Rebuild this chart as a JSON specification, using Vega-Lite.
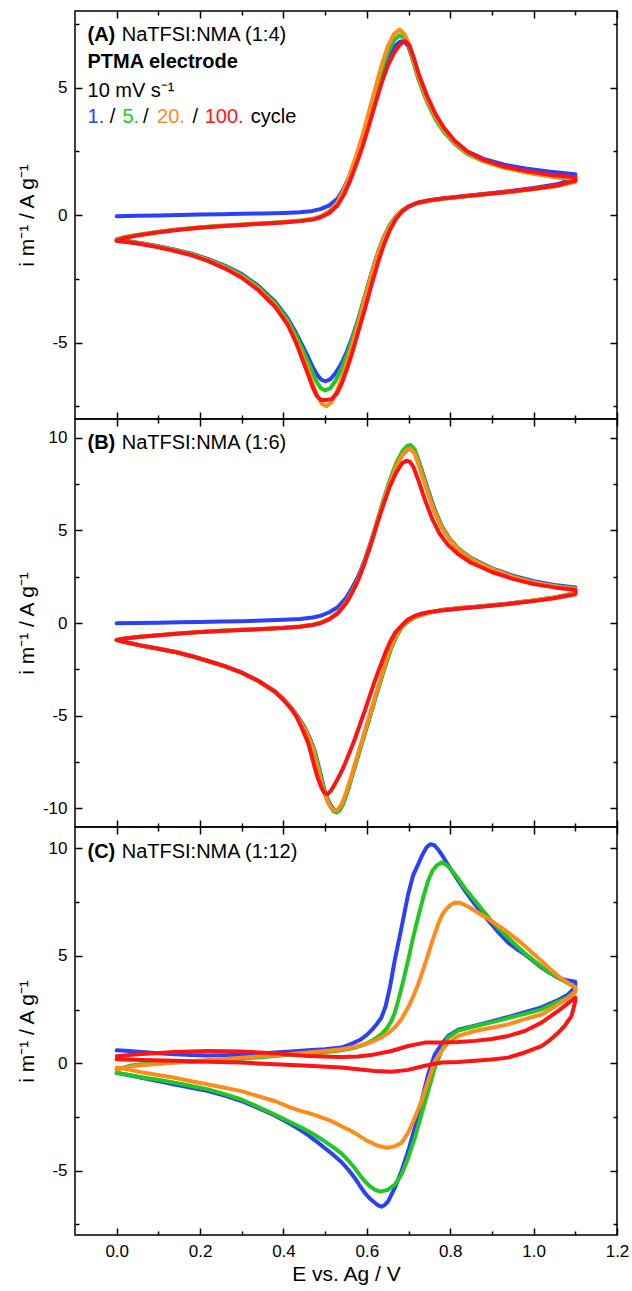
{
"$schema": "https://vega.github.io/schema/vega-lite/v6.json",
"padding": {"left": 15, "top": 9, "right": 0, "bottom": 0},
"background": "white",
"spacing": 0,
"bounds": "flush",
"config": {
 "font": "Liberation Sans",
 "view": {"stroke": "black", "strokeWidth": 1.5},
 "axis": {"domain": false, "grid": false, "tickColor": "black", "tickWidth": 1.5, "labelColor": "black", "titleColor": "black", "labelFontSize": 17, "titleFontSize": 21, "titleFontWeight": "normal", "labelFont": "Liberation Sans", "titleFont": "Liberation Sans"},
 "text": {"font": "Liberation Sans", "fontSize": 20}
},
"datasets": {
 "A": [
{"c":1,"x":0,"y":-0.05},{"c":1,"x":0.05,"y":-0.03},{"c":1,"x":0.1,"y":-0.02},{"c":1,"x":0.15,"y":0},{"c":1,"x":0.2,"y":0.02},{"c":1,"x":0.25,"y":0.03},{"c":1,"x":0.3,"y":0.05},{"c":1,"x":0.35,"y":0.06},{"c":1,"x":0.4,"y":0.08},{"c":1,"x":0.44,"y":0.11},{"c":1,"x":0.47,"y":0.16},{"c":1,"x":0.49,"y":0.24},{"c":1,"x":0.51,"y":0.38},{"c":1,"x":0.53,"y":0.65},{"c":1,"x":0.545,"y":1.05},{"c":1,"x":0.56,"y":1.6},{"c":1,"x":0.575,"y":2.3},{"c":1,"x":0.59,"y":3.05},{"c":1,"x":0.605,"y":3.9},{"c":1,"x":0.62,"y":4.7},{"c":1,"x":0.635,"y":5.55},{"c":1,"x":0.65,"y":6.2},{"c":1,"x":0.665,"y":6.6},{"c":1,"x":0.68,"y":6.8},{"c":1,"x":0.69,"y":6.8},{"c":1,"x":0.7,"y":6.6},{"c":1,"x":0.71,"y":6.1},{"c":1,"x":0.725,"y":5.3},{"c":1,"x":0.745,"y":4.5},{"c":1,"x":0.765,"y":3.85},{"c":1,"x":0.785,"y":3.35},{"c":1,"x":0.81,"y":2.9},{"c":1,"x":0.84,"y":2.5},{"c":1,"x":0.88,"y":2.2},{"c":1,"x":0.93,"y":1.97},{"c":1,"x":0.98,"y":1.82},{"c":1,"x":1.04,"y":1.7},{"c":1,"x":1.1,"y":1.6},
{"c":1,"x":1.1,"y":1.45},{"c":1,"x":1.06,"y":1.22},{"c":1,"x":1,"y":1.06},{"c":1,"x":0.94,"y":0.93},{"c":1,"x":0.88,"y":0.82},{"c":1,"x":0.82,"y":0.72},{"c":1,"x":0.78,"y":0.64},{"c":1,"x":0.75,"y":0.57},{"c":1,"x":0.72,"y":0.47},{"c":1,"x":0.7,"y":0.34},{"c":1,"x":0.685,"y":0.18},{"c":1,"x":0.67,"y":-0.05},{"c":1,"x":0.655,"y":-0.4},{"c":1,"x":0.64,"y":-0.9},{"c":1,"x":0.627,"y":-1.45},{"c":1,"x":0.611,"y":-2.3},{"c":1,"x":0.595,"y":-3.2},{"c":1,"x":0.579,"y":-4.1},{"c":1,"x":0.565,"y":-4.8},{"c":1,"x":0.552,"y":-5.35},{"c":1,"x":0.54,"y":-5.8},{"c":1,"x":0.525,"y":-6.2},{"c":1,"x":0.512,"y":-6.45},{"c":1,"x":0.5,"y":-6.52},{"c":1,"x":0.49,"y":-6.45},{"c":1,"x":0.48,"y":-6.25},{"c":1,"x":0.47,"y":-5.95},{"c":1,"x":0.46,"y":-5.6},{"c":1,"x":0.445,"y":-5.1},{"c":1,"x":0.43,"y":-4.62},{"c":1,"x":0.41,"y":-4.05},{"c":1,"x":0.38,"y":-3.4},{"c":1,"x":0.34,"y":-2.78},{"c":1,"x":0.3,"y":-2.32},{"c":1,"x":0.26,"y":-1.99},{"c":1,"x":0.22,"y":-1.73},{"c":1,"x":0.18,"y":-1.52},{"c":1,"x":0.14,"y":-1.36},{"c":1,"x":0.1,"y":-1.22},{"c":1,"x":0.06,"y":-1.11},{"c":1,"x":0.03,"y":-1.04},{"c":1,"x":0,"y":-0.98},
{"c":5,"x":0,"y":-0.95},{"c":5,"x":0.02,"y":-0.86},{"c":5,"x":0.05,"y":-0.77},{"c":5,"x":0.1,"y":-0.66},{"c":5,"x":0.15,"y":-0.56},{"c":5,"x":0.2,"y":-0.48},{"c":5,"x":0.25,"y":-0.42},{"c":5,"x":0.3,"y":-0.37},{"c":5,"x":0.35,"y":-0.32},{"c":5,"x":0.4,"y":-0.27},{"c":5,"x":0.44,"y":-0.22},{"c":5,"x":0.47,"y":-0.15},{"c":5,"x":0.49,"y":-0.05},{"c":5,"x":0.51,"y":0.15},{"c":5,"x":0.53,"y":0.5},{"c":5,"x":0.545,"y":0.95},{"c":5,"x":0.56,"y":1.55},{"c":5,"x":0.575,"y":2.25},{"c":5,"x":0.59,"y":3.0},{"c":5,"x":0.605,"y":3.9},{"c":5,"x":0.62,"y":4.75},{"c":5,"x":0.635,"y":5.65},{"c":5,"x":0.65,"y":6.35},{"c":5,"x":0.665,"y":6.85},{"c":5,"x":0.678,"y":7.05},{"c":5,"x":0.69,"y":6.95},{"c":5,"x":0.7,"y":6.65},{"c":5,"x":0.71,"y":6.1},{"c":5,"x":0.725,"y":5.25},{"c":5,"x":0.745,"y":4.4},{"c":5,"x":0.765,"y":3.75},{"c":5,"x":0.785,"y":3.25},{"c":5,"x":0.81,"y":2.8},{"c":5,"x":0.84,"y":2.4},{"c":5,"x":0.88,"y":2.1},{"c":5,"x":0.93,"y":1.85},{"c":5,"x":0.98,"y":1.68},{"c":5,"x":1.04,"y":1.52},{"c":5,"x":1.1,"y":1.38},
{"c":5,"x":1.1,"y":1.3},{"c":5,"x":1.06,"y":1.15},{"c":5,"x":1,"y":1.02},{"c":5,"x":0.94,"y":0.9},{"c":5,"x":0.88,"y":0.8},{"c":5,"x":0.82,"y":0.71},{"c":5,"x":0.78,"y":0.64},{"c":5,"x":0.75,"y":0.57},{"c":5,"x":0.72,"y":0.47},{"c":5,"x":0.7,"y":0.34},{"c":5,"x":0.685,"y":0.18},{"c":5,"x":0.67,"y":-0.05},{"c":5,"x":0.655,"y":-0.4},{"c":5,"x":0.64,"y":-0.9},{"c":5,"x":0.627,"y":-1.45},{"c":5,"x":0.611,"y":-2.3},{"c":5,"x":0.595,"y":-3.2},{"c":5,"x":0.579,"y":-4.15},{"c":5,"x":0.565,"y":-4.9},{"c":5,"x":0.552,"y":-5.5},{"c":5,"x":0.54,"y":-6.0},{"c":5,"x":0.525,"y":-6.5},{"c":5,"x":0.512,"y":-6.8},{"c":5,"x":0.5,"y":-6.88},{"c":5,"x":0.49,"y":-6.8},{"c":5,"x":0.48,"y":-6.55},{"c":5,"x":0.47,"y":-6.2},{"c":5,"x":0.46,"y":-5.8},{"c":5,"x":0.445,"y":-5.25},{"c":5,"x":0.43,"y":-4.72},{"c":5,"x":0.41,"y":-4.12},{"c":5,"x":0.38,"y":-3.46},{"c":5,"x":0.34,"y":-2.83},{"c":5,"x":0.3,"y":-2.36},{"c":5,"x":0.26,"y":-2.02},{"c":5,"x":0.22,"y":-1.75},{"c":5,"x":0.18,"y":-1.54},{"c":5,"x":0.14,"y":-1.37},{"c":5,"x":0.1,"y":-1.23},{"c":5,"x":0.06,"y":-1.12},{"c":5,"x":0.03,"y":-1.05},{"c":5,"x":0,"y":-1.0},
{"c":20,"x":0,"y":-0.97},{"c":20,"x":0.02,"y":-0.88},{"c":20,"x":0.05,"y":-0.79},{"c":20,"x":0.1,"y":-0.67},{"c":20,"x":0.15,"y":-0.57},{"c":20,"x":0.2,"y":-0.49},{"c":20,"x":0.25,"y":-0.43},{"c":20,"x":0.3,"y":-0.38},{"c":20,"x":0.35,"y":-0.33},{"c":20,"x":0.4,"y":-0.28},{"c":20,"x":0.44,"y":-0.23},{"c":20,"x":0.47,"y":-0.16},{"c":20,"x":0.49,"y":-0.06},{"c":20,"x":0.51,"y":0.14},{"c":20,"x":0.53,"y":0.5},{"c":20,"x":0.545,"y":0.98},{"c":20,"x":0.56,"y":1.6},{"c":20,"x":0.575,"y":2.35},{"c":20,"x":0.59,"y":3.15},{"c":20,"x":0.605,"y":4.05},{"c":20,"x":0.62,"y":4.95},{"c":20,"x":0.635,"y":5.85},{"c":20,"x":0.65,"y":6.6},{"c":20,"x":0.665,"y":7.1},{"c":20,"x":0.678,"y":7.27},{"c":20,"x":0.69,"y":7.1},{"c":20,"x":0.7,"y":6.75},{"c":20,"x":0.71,"y":6.2},{"c":20,"x":0.725,"y":5.35},{"c":20,"x":0.745,"y":4.5},{"c":20,"x":0.765,"y":3.85},{"c":20,"x":0.785,"y":3.33},{"c":20,"x":0.81,"y":2.85},{"c":20,"x":0.84,"y":2.45},{"c":20,"x":0.88,"y":2.12},{"c":20,"x":0.93,"y":1.86},{"c":20,"x":0.98,"y":1.68},{"c":20,"x":1.04,"y":1.52},{"c":20,"x":1.1,"y":1.4},
{"c":20,"x":1.1,"y":1.3},{"c":20,"x":1.06,"y":1.15},{"c":20,"x":1,"y":1.02},{"c":20,"x":0.94,"y":0.9},{"c":20,"x":0.88,"y":0.8},{"c":20,"x":0.82,"y":0.71},{"c":20,"x":0.78,"y":0.64},{"c":20,"x":0.75,"y":0.57},{"c":20,"x":0.72,"y":0.47},{"c":20,"x":0.7,"y":0.33},{"c":20,"x":0.685,"y":0.16},{"c":20,"x":0.67,"y":-0.08},{"c":20,"x":0.655,"y":-0.45},{"c":20,"x":0.64,"y":-0.95},{"c":20,"x":0.627,"y":-1.5},{"c":20,"x":0.611,"y":-2.35},{"c":20,"x":0.595,"y":-3.3},{"c":20,"x":0.579,"y":-4.3},{"c":20,"x":0.565,"y":-5.1},{"c":20,"x":0.552,"y":-5.8},{"c":20,"x":0.54,"y":-6.4},{"c":20,"x":0.527,"y":-6.95},{"c":20,"x":0.515,"y":-7.35},{"c":20,"x":0.503,"y":-7.5},{"c":20,"x":0.492,"y":-7.4},{"c":20,"x":0.482,"y":-7.1},{"c":20,"x":0.472,"y":-6.7},{"c":20,"x":0.462,"y":-6.2},{"c":20,"x":0.447,"y":-5.55},{"c":20,"x":0.43,"y":-4.9},{"c":20,"x":0.41,"y":-4.25},{"c":20,"x":0.38,"y":-3.55},{"c":20,"x":0.34,"y":-2.9},{"c":20,"x":0.3,"y":-2.42},{"c":20,"x":0.26,"y":-2.06},{"c":20,"x":0.22,"y":-1.78},{"c":20,"x":0.18,"y":-1.56},{"c":20,"x":0.14,"y":-1.39},{"c":20,"x":0.1,"y":-1.25},{"c":20,"x":0.06,"y":-1.13},{"c":20,"x":0.03,"y":-1.06},{"c":20,"x":0,"y":-1.0},
{"c":100,"x":0,"y":-1.0},{"c":100,"x":0.02,"y":-0.9},{"c":100,"x":0.05,"y":-0.8},{"c":100,"x":0.1,"y":-0.68},{"c":100,"x":0.15,"y":-0.58},{"c":100,"x":0.2,"y":-0.5},{"c":100,"x":0.25,"y":-0.44},{"c":100,"x":0.3,"y":-0.39},{"c":100,"x":0.35,"y":-0.34},{"c":100,"x":0.4,"y":-0.29},{"c":100,"x":0.44,"y":-0.24},{"c":100,"x":0.47,"y":-0.18},{"c":100,"x":0.49,"y":-0.09},{"c":100,"x":0.51,"y":0.08},{"c":100,"x":0.53,"y":0.38},{"c":100,"x":0.545,"y":0.8},{"c":100,"x":0.56,"y":1.35},{"c":100,"x":0.575,"y":2.0},{"c":100,"x":0.59,"y":2.7},{"c":100,"x":0.605,"y":3.5},{"c":100,"x":0.62,"y":4.35},{"c":100,"x":0.635,"y":5.15},{"c":100,"x":0.65,"y":5.85},{"c":100,"x":0.665,"y":6.35},{"c":100,"x":0.68,"y":6.7},{"c":100,"x":0.692,"y":6.82},{"c":100,"x":0.702,"y":6.65},{"c":100,"x":0.712,"y":6.2},{"c":100,"x":0.725,"y":5.5},{"c":100,"x":0.745,"y":4.65},{"c":100,"x":0.765,"y":3.95},{"c":100,"x":0.785,"y":3.42},{"c":100,"x":0.81,"y":2.92},{"c":100,"x":0.84,"y":2.5},{"c":100,"x":0.88,"y":2.16},{"c":100,"x":0.93,"y":1.9},{"c":100,"x":0.98,"y":1.73},{"c":100,"x":1.04,"y":1.58},{"c":100,"x":1.1,"y":1.48},
{"c":100,"x":1.1,"y":1.35},{"c":100,"x":1.06,"y":1.17},{"c":100,"x":1,"y":1.03},{"c":100,"x":0.94,"y":0.91},{"c":100,"x":0.88,"y":0.81},{"c":100,"x":0.82,"y":0.72},{"c":100,"x":0.78,"y":0.65},{"c":100,"x":0.75,"y":0.58},{"c":100,"x":0.72,"y":0.47},{"c":100,"x":0.7,"y":0.33},{"c":100,"x":0.685,"y":0.14},{"c":100,"x":0.67,"y":-0.15},{"c":100,"x":0.655,"y":-0.6},{"c":100,"x":0.64,"y":-1.2},{"c":100,"x":0.627,"y":-1.85},{"c":100,"x":0.611,"y":-2.75},{"c":100,"x":0.595,"y":-3.7},{"c":100,"x":0.579,"y":-4.6},{"c":100,"x":0.565,"y":-5.4},{"c":100,"x":0.552,"y":-6.05},{"c":100,"x":0.54,"y":-6.6},{"c":100,"x":0.528,"y":-7.0},{"c":100,"x":0.515,"y":-7.22},{"c":100,"x":0.503,"y":-7.25},{"c":100,"x":0.49,"y":-7.25},{"c":100,"x":0.48,"y":-7.1},{"c":100,"x":0.47,"y":-6.75},{"c":100,"x":0.46,"y":-6.3},{"c":100,"x":0.445,"y":-5.65},{"c":100,"x":0.43,"y":-5.0},{"c":100,"x":0.41,"y":-4.3},{"c":100,"x":0.38,"y":-3.6},{"c":100,"x":0.34,"y":-2.95},{"c":100,"x":0.3,"y":-2.46},{"c":100,"x":0.26,"y":-2.1},{"c":100,"x":0.22,"y":-1.81},{"c":100,"x":0.18,"y":-1.58},{"c":100,"x":0.14,"y":-1.41},{"c":100,"x":0.1,"y":-1.27},{"c":100,"x":0.06,"y":-1.15},{"c":100,"x":0.03,"y":-1.07},{"c":100,"x":0,"y":-1.02}
 ],
 "B": [
{"c":1,"x":0,"y":-0.02},{"c":1,"x":0.05,"y":0},{"c":1,"x":0.1,"y":0.02},{"c":1,"x":0.15,"y":0.04},{"c":1,"x":0.2,"y":0.06},{"c":1,"x":0.25,"y":0.08},{"c":1,"x":0.3,"y":0.1},{"c":1,"x":0.35,"y":0.13},{"c":1,"x":0.4,"y":0.17},{"c":1,"x":0.44,"y":0.22},{"c":1,"x":0.47,"y":0.3},{"c":1,"x":0.49,"y":0.4},{"c":1,"x":0.51,"y":0.58},{"c":1,"x":0.53,"y":0.85},{"c":1,"x":0.55,"y":1.35},{"c":1,"x":0.565,"y":1.9},{"c":1,"x":0.58,"y":2.55},{"c":1,"x":0.595,"y":3.4},{"c":1,"x":0.61,"y":4.4},{"c":1,"x":0.625,"y":5.5},{"c":1,"x":0.64,"y":6.6},{"c":1,"x":0.655,"y":7.6},{"c":1,"x":0.67,"y":8.45},{"c":1,"x":0.685,"y":9.05},{"c":1,"x":0.697,"y":9.35},{"c":1,"x":0.707,"y":9.4},{"c":1,"x":0.717,"y":9.15},{"c":1,"x":0.73,"y":8.35},{"c":1,"x":0.745,"y":7.3},{"c":1,"x":0.763,"y":6.1},{"c":1,"x":0.78,"y":5.2},{"c":1,"x":0.8,"y":4.5},{"c":1,"x":0.82,"y":4.0},{"c":1,"x":0.85,"y":3.5},{"c":1,"x":0.9,"y":2.95},{"c":1,"x":0.95,"y":2.55},{"c":1,"x":1,"y":2.25},{"c":1,"x":1.05,"y":2.05},{"c":1,"x":1.1,"y":1.92},
{"c":1,"x":1.1,"y":1.62},{"c":1,"x":1.05,"y":1.38},{"c":1,"x":1,"y":1.22},{"c":1,"x":0.94,"y":1.05},{"c":1,"x":0.88,"y":0.92},{"c":1,"x":0.82,"y":0.8},{"c":1,"x":0.78,"y":0.7},{"c":1,"x":0.75,"y":0.56},{"c":1,"x":0.73,"y":0.42},{"c":1,"x":0.715,"y":0.3},{"c":1,"x":0.707,"y":0.2},{"c":1,"x":0.695,"y":0.02},{"c":1,"x":0.683,"y":-0.23},{"c":1,"x":0.671,"y":-0.7},{"c":1,"x":0.659,"y":-1.3},{"c":1,"x":0.647,"y":-2.1},{"c":1,"x":0.635,"y":-2.94},{"c":1,"x":0.623,"y":-3.84},{"c":1,"x":0.611,"y":-4.74},{"c":1,"x":0.599,"y":-5.64},{"c":1,"x":0.587,"y":-6.54},{"c":1,"x":0.575,"y":-7.44},{"c":1,"x":0.563,"y":-8.33},{"c":1,"x":0.553,"y":-9.1},{"c":1,"x":0.543,"y":-9.7},{"c":1,"x":0.535,"y":-10.02},{"c":1,"x":0.527,"y":-10.12},{"c":1,"x":0.52,"y":-10.05},{"c":1,"x":0.513,"y":-9.82},{"c":1,"x":0.505,"y":-9.45},{"c":1,"x":0.497,"y":-8.9},{"c":1,"x":0.491,"y":-8.33},{"c":1,"x":0.483,"y":-7.6},{"c":1,"x":0.475,"y":-6.9},{"c":1,"x":0.463,"y":-6.2},{"c":1,"x":0.451,"y":-5.64},{"c":1,"x":0.435,"y":-5.05},{"c":1,"x":0.419,"y":-4.56},{"c":1,"x":0.4,"y":-4.1},{"c":1,"x":0.379,"y":-3.66},{"c":1,"x":0.34,"y":-3.12},{"c":1,"x":0.3,"y":-2.67},{"c":1,"x":0.26,"y":-2.33},{"c":1,"x":0.219,"y":-2.04},{"c":1,"x":0.18,"y":-1.78},{"c":1,"x":0.139,"y":-1.55},{"c":1,"x":0.1,"y":-1.38},{"c":1,"x":0.059,"y":-1.21},{"c":1,"x":0.03,"y":-1.07},{"c":1,"x":0,"y":-0.92},
{"c":5,"x":0,"y":-0.92},{"c":5,"x":0.02,"y":-0.84},{"c":5,"x":0.05,"y":-0.76},{"c":5,"x":0.1,"y":-0.66},{"c":5,"x":0.15,"y":-0.56},{"c":5,"x":0.2,"y":-0.48},{"c":5,"x":0.25,"y":-0.42},{"c":5,"x":0.3,"y":-0.37},{"c":5,"x":0.35,"y":-0.32},{"c":5,"x":0.4,"y":-0.26},{"c":5,"x":0.44,"y":-0.19},{"c":5,"x":0.47,"y":-0.1},{"c":5,"x":0.49,"y":0.02},{"c":5,"x":0.51,"y":0.22},{"c":5,"x":0.53,"y":0.55},{"c":5,"x":0.55,"y":1.1},{"c":5,"x":0.565,"y":1.7},{"c":5,"x":0.58,"y":2.4},{"c":5,"x":0.595,"y":3.3},{"c":5,"x":0.61,"y":4.35},{"c":5,"x":0.625,"y":5.5},{"c":5,"x":0.64,"y":6.65},{"c":5,"x":0.655,"y":7.7},{"c":5,"x":0.67,"y":8.6},{"c":5,"x":0.685,"y":9.25},{"c":5,"x":0.697,"y":9.55},{"c":5,"x":0.705,"y":9.6},{"c":5,"x":0.715,"y":9.35},{"c":5,"x":0.728,"y":8.5},{"c":5,"x":0.743,"y":7.4},{"c":5,"x":0.76,"y":6.2},{"c":5,"x":0.78,"y":5.2},{"c":5,"x":0.8,"y":4.5},{"c":5,"x":0.82,"y":4.0},{"c":5,"x":0.85,"y":3.48},{"c":5,"x":0.9,"y":2.92},{"c":5,"x":0.95,"y":2.5},{"c":5,"x":1,"y":2.2},{"c":5,"x":1.05,"y":2.0},{"c":5,"x":1.1,"y":1.85},
{"c":5,"x":1.1,"y":1.6},{"c":5,"x":1.05,"y":1.37},{"c":5,"x":1,"y":1.21},{"c":5,"x":0.94,"y":1.04},{"c":5,"x":0.88,"y":0.91},{"c":5,"x":0.82,"y":0.79},{"c":5,"x":0.78,"y":0.7},{"c":5,"x":0.75,"y":0.56},{"c":5,"x":0.73,"y":0.42},{"c":5,"x":0.715,"y":0.3},{"c":5,"x":0.707,"y":0.2},{"c":5,"x":0.695,"y":0.02},{"c":5,"x":0.683,"y":-0.25},{"c":5,"x":0.671,"y":-0.72},{"c":5,"x":0.659,"y":-1.32},{"c":5,"x":0.647,"y":-2.12},{"c":5,"x":0.635,"y":-2.97},{"c":5,"x":0.623,"y":-3.87},{"c":5,"x":0.611,"y":-4.78},{"c":5,"x":0.599,"y":-5.68},{"c":5,"x":0.587,"y":-6.58},{"c":5,"x":0.575,"y":-7.48},{"c":5,"x":0.563,"y":-8.38},{"c":5,"x":0.553,"y":-9.15},{"c":5,"x":0.543,"y":-9.78},{"c":5,"x":0.535,"y":-10.1},{"c":5,"x":0.527,"y":-10.22},{"c":5,"x":0.52,"y":-10.15},{"c":5,"x":0.513,"y":-9.9},{"c":5,"x":0.505,"y":-9.5},{"c":5,"x":0.497,"y":-8.95},{"c":5,"x":0.491,"y":-8.38},{"c":5,"x":0.483,"y":-7.65},{"c":5,"x":0.475,"y":-6.95},{"c":5,"x":0.463,"y":-6.25},{"c":5,"x":0.451,"y":-5.68},{"c":5,"x":0.435,"y":-5.08},{"c":5,"x":0.419,"y":-4.58},{"c":5,"x":0.4,"y":-4.12},{"c":5,"x":0.379,"y":-3.68},{"c":5,"x":0.34,"y":-3.13},{"c":5,"x":0.3,"y":-2.68},{"c":5,"x":0.26,"y":-2.34},{"c":5,"x":0.219,"y":-2.05},{"c":5,"x":0.18,"y":-1.79},{"c":5,"x":0.139,"y":-1.56},{"c":5,"x":0.1,"y":-1.39},{"c":5,"x":0.059,"y":-1.22},{"c":5,"x":0.03,"y":-1.08},{"c":5,"x":0,"y":-0.92},
{"c":20,"x":0,"y":-0.92},{"c":20,"x":0.02,"y":-0.84},{"c":20,"x":0.05,"y":-0.76},{"c":20,"x":0.1,"y":-0.66},{"c":20,"x":0.15,"y":-0.56},{"c":20,"x":0.2,"y":-0.48},{"c":20,"x":0.25,"y":-0.42},{"c":20,"x":0.3,"y":-0.37},{"c":20,"x":0.35,"y":-0.32},{"c":20,"x":0.4,"y":-0.26},{"c":20,"x":0.44,"y":-0.19},{"c":20,"x":0.47,"y":-0.1},{"c":20,"x":0.49,"y":0.02},{"c":20,"x":0.51,"y":0.22},{"c":20,"x":0.53,"y":0.55},{"c":20,"x":0.55,"y":1.1},{"c":20,"x":0.565,"y":1.7},{"c":20,"x":0.58,"y":2.4},{"c":20,"x":0.595,"y":3.3},{"c":20,"x":0.61,"y":4.35},{"c":20,"x":0.625,"y":5.45},{"c":20,"x":0.64,"y":6.55},{"c":20,"x":0.655,"y":7.55},{"c":20,"x":0.67,"y":8.4},{"c":20,"x":0.685,"y":9.05},{"c":20,"x":0.697,"y":9.35},{"c":20,"x":0.704,"y":9.4},{"c":20,"x":0.714,"y":9.15},{"c":20,"x":0.727,"y":8.35},{"c":20,"x":0.742,"y":7.3},{"c":20,"x":0.76,"y":6.1},{"c":20,"x":0.78,"y":5.12},{"c":20,"x":0.8,"y":4.45},{"c":20,"x":0.82,"y":3.95},{"c":20,"x":0.85,"y":3.45},{"c":20,"x":0.9,"y":2.9},{"c":20,"x":0.95,"y":2.48},{"c":20,"x":1,"y":2.18},{"c":20,"x":1.05,"y":1.98},{"c":20,"x":1.1,"y":1.84},
{"c":20,"x":1.1,"y":1.6},{"c":20,"x":1.05,"y":1.37},{"c":20,"x":1,"y":1.21},{"c":20,"x":0.94,"y":1.04},{"c":20,"x":0.88,"y":0.91},{"c":20,"x":0.82,"y":0.79},{"c":20,"x":0.78,"y":0.7},{"c":20,"x":0.75,"y":0.56},{"c":20,"x":0.73,"y":0.42},{"c":20,"x":0.715,"y":0.3},{"c":20,"x":0.705,"y":0.2},{"c":20,"x":0.693,"y":0.02},{"c":20,"x":0.681,"y":-0.25},{"c":20,"x":0.669,"y":-0.72},{"c":20,"x":0.657,"y":-1.32},{"c":20,"x":0.645,"y":-2.12},{"c":20,"x":0.633,"y":-2.97},{"c":20,"x":0.621,"y":-3.87},{"c":20,"x":0.609,"y":-4.78},{"c":20,"x":0.597,"y":-5.68},{"c":20,"x":0.585,"y":-6.58},{"c":20,"x":0.573,"y":-7.48},{"c":20,"x":0.561,"y":-8.38},{"c":20,"x":0.55,"y":-9.15},{"c":20,"x":0.54,"y":-9.75},{"c":20,"x":0.531,"y":-10.05},{"c":20,"x":0.523,"y":-10.12},{"c":20,"x":0.516,"y":-10.02},{"c":20,"x":0.509,"y":-9.78},{"c":20,"x":0.501,"y":-9.35},{"c":20,"x":0.493,"y":-8.8},{"c":20,"x":0.487,"y":-8.25},{"c":20,"x":0.479,"y":-7.55},{"c":20,"x":0.472,"y":-6.9},{"c":20,"x":0.461,"y":-6.22},{"c":20,"x":0.449,"y":-5.66},{"c":20,"x":0.433,"y":-5.06},{"c":20,"x":0.418,"y":-4.58},{"c":20,"x":0.4,"y":-4.12},{"c":20,"x":0.379,"y":-3.68},{"c":20,"x":0.34,"y":-3.13},{"c":20,"x":0.3,"y":-2.68},{"c":20,"x":0.26,"y":-2.34},{"c":20,"x":0.219,"y":-2.05},{"c":20,"x":0.18,"y":-1.79},{"c":20,"x":0.139,"y":-1.56},{"c":20,"x":0.1,"y":-1.39},{"c":20,"x":0.059,"y":-1.22},{"c":20,"x":0.03,"y":-1.08},{"c":20,"x":0,"y":-0.92},
{"c":100,"x":0,"y":-0.92},{"c":100,"x":0.02,"y":-0.84},{"c":100,"x":0.05,"y":-0.76},{"c":100,"x":0.1,"y":-0.66},{"c":100,"x":0.15,"y":-0.57},{"c":100,"x":0.2,"y":-0.49},{"c":100,"x":0.25,"y":-0.43},{"c":100,"x":0.3,"y":-0.38},{"c":100,"x":0.35,"y":-0.33},{"c":100,"x":0.4,"y":-0.27},{"c":100,"x":0.44,"y":-0.2},{"c":100,"x":0.47,"y":-0.11},{"c":100,"x":0.49,"y":0},{"c":100,"x":0.51,"y":0.2},{"c":100,"x":0.53,"y":0.52},{"c":100,"x":0.55,"y":1.05},{"c":100,"x":0.565,"y":1.65},{"c":100,"x":0.58,"y":2.35},{"c":100,"x":0.595,"y":3.25},{"c":100,"x":0.61,"y":4.25},{"c":100,"x":0.625,"y":5.35},{"c":100,"x":0.64,"y":6.4},{"c":100,"x":0.655,"y":7.35},{"c":100,"x":0.67,"y":8.1},{"c":100,"x":0.684,"y":8.6},{"c":100,"x":0.695,"y":8.75},{"c":100,"x":0.703,"y":8.7},{"c":100,"x":0.712,"y":8.4},{"c":100,"x":0.725,"y":7.6},{"c":100,"x":0.74,"y":6.6},{"c":100,"x":0.757,"y":5.6},{"c":100,"x":0.775,"y":4.8},{"c":100,"x":0.795,"y":4.2},{"c":100,"x":0.82,"y":3.7},{"c":100,"x":0.85,"y":3.25},{"c":100,"x":0.9,"y":2.75},{"c":100,"x":0.95,"y":2.38},{"c":100,"x":1,"y":2.1},{"c":100,"x":1.05,"y":1.92},{"c":100,"x":1.1,"y":1.78},
{"c":100,"x":1.1,"y":1.55},{"c":100,"x":1.05,"y":1.33},{"c":100,"x":1,"y":1.18},{"c":100,"x":0.94,"y":1.02},{"c":100,"x":0.88,"y":0.89},{"c":100,"x":0.82,"y":0.77},{"c":100,"x":0.78,"y":0.68},{"c":100,"x":0.75,"y":0.6},{"c":100,"x":0.73,"y":0.5},{"c":100,"x":0.715,"y":0.38},{"c":100,"x":0.699,"y":0.2},{"c":100,"x":0.683,"y":-0.15},{"c":100,"x":0.667,"y":-0.55},{"c":100,"x":0.655,"y":-1.05},{"c":100,"x":0.643,"y":-1.68},{"c":100,"x":0.631,"y":-2.4},{"c":100,"x":0.619,"y":-3.12},{"c":100,"x":0.607,"y":-3.93},{"c":100,"x":0.595,"y":-4.74},{"c":100,"x":0.583,"y":-5.5},{"c":100,"x":0.571,"y":-6.27},{"c":100,"x":0.559,"y":-6.95},{"c":100,"x":0.547,"y":-7.62},{"c":100,"x":0.535,"y":-8.2},{"c":100,"x":0.523,"y":-8.7},{"c":100,"x":0.514,"y":-9.05},{"c":100,"x":0.505,"y":-9.23},{"c":100,"x":0.498,"y":-9.15},{"c":100,"x":0.491,"y":-8.87},{"c":100,"x":0.483,"y":-8.4},{"c":100,"x":0.475,"y":-7.8},{"c":100,"x":0.467,"y":-7.1},{"c":100,"x":0.459,"y":-6.45},{"c":100,"x":0.443,"y":-5.6},{"c":100,"x":0.431,"y":-5.05},{"c":100,"x":0.419,"y":-4.65},{"c":100,"x":0.4,"y":-4.15},{"c":100,"x":0.379,"y":-3.7},{"c":100,"x":0.34,"y":-3.13},{"c":100,"x":0.3,"y":-2.68},{"c":100,"x":0.26,"y":-2.34},{"c":100,"x":0.219,"y":-2.05},{"c":100,"x":0.18,"y":-1.79},{"c":100,"x":0.139,"y":-1.56},{"c":100,"x":0.1,"y":-1.39},{"c":100,"x":0.059,"y":-1.22},{"c":100,"x":0.03,"y":-1.08},{"c":100,"x":0,"y":-0.92}
 ],
 "C": [
{"c":1,"x":0,"y":0.6},{"c":1,"x":0.03,"y":0.57},{"c":1,"x":0.059,"y":0.52},{"c":1,"x":0.1,"y":0.46},{"c":1,"x":0.139,"y":0.42},{"c":1,"x":0.179,"y":0.38},{"c":1,"x":0.219,"y":0.36},{"c":1,"x":0.259,"y":0.37},{"c":1,"x":0.299,"y":0.39},{"c":1,"x":0.339,"y":0.44},{"c":1,"x":0.379,"y":0.5},{"c":1,"x":0.419,"y":0.55},{"c":1,"x":0.459,"y":0.6},{"c":1,"x":0.499,"y":0.65},{"c":1,"x":0.539,"y":0.73},{"c":1,"x":0.563,"y":0.9},{"c":1,"x":0.583,"y":1.08},{"c":1,"x":0.6,"y":1.32},{"c":1,"x":0.612,"y":1.55},{"c":1,"x":0.623,"y":1.8},{"c":1,"x":0.635,"y":2.13},{"c":1,"x":0.645,"y":2.65},{"c":1,"x":0.655,"y":3.5},{"c":1,"x":0.667,"y":4.8},{"c":1,"x":0.683,"y":6.3},{"c":1,"x":0.699,"y":7.86},{"c":1,"x":0.711,"y":8.75},{"c":1,"x":0.723,"y":9.26},{"c":1,"x":0.733,"y":9.7},{"c":1,"x":0.743,"y":10.05},{"c":1,"x":0.752,"y":10.2},{"c":1,"x":0.762,"y":10.15},{"c":1,"x":0.771,"y":9.95},{"c":1,"x":0.779,"y":9.73},{"c":1,"x":0.799,"y":9.1},{"c":1,"x":0.819,"y":8.5},{"c":1,"x":0.839,"y":7.93},{"c":1,"x":0.859,"y":7.4},{"c":1,"x":0.879,"y":6.92},{"c":1,"x":0.899,"y":6.47},{"c":1,"x":0.919,"y":6.02},{"c":1,"x":0.939,"y":5.61},{"c":1,"x":0.959,"y":5.32},{"c":1,"x":0.979,"y":5.07},{"c":1,"x":0.999,"y":4.76},{"c":1,"x":1.019,"y":4.45},{"c":1,"x":1.039,"y":4.2},{"c":1,"x":1.059,"y":3.98},{"c":1,"x":1.08,"y":3.86},{"c":1,"x":1.1,"y":3.8},
{"c":1,"x":1.1,"y":3.55},{"c":1,"x":1.083,"y":3.2},{"c":1,"x":1.06,"y":2.95},{"c":1,"x":1.039,"y":2.78},{"c":1,"x":1.019,"y":2.6},{"c":1,"x":0.979,"y":2.38},{"c":1,"x":0.939,"y":2.15},{"c":1,"x":0.899,"y":1.95},{"c":1,"x":0.859,"y":1.75},{"c":1,"x":0.819,"y":1.56},{"c":1,"x":0.795,"y":1.27},{"c":1,"x":0.779,"y":0.88},{"c":1,"x":0.763,"y":0.41},{"c":1,"x":0.747,"y":-0.52},{"c":1,"x":0.731,"y":-1.77},{"c":1,"x":0.715,"y":-3.01},{"c":1,"x":0.699,"y":-4.1},{"c":1,"x":0.683,"y":-5.03},{"c":1,"x":0.667,"y":-5.81},{"c":1,"x":0.651,"y":-6.43},{"c":1,"x":0.643,"y":-6.6},{"c":1,"x":0.635,"y":-6.68},{"c":1,"x":0.627,"y":-6.62},{"c":1,"x":0.619,"y":-6.5},{"c":1,"x":0.607,"y":-6.3},{"c":1,"x":0.595,"y":-6.04},{"c":1,"x":0.583,"y":-5.7},{"c":1,"x":0.571,"y":-5.34},{"c":1,"x":0.555,"y":-4.95},{"c":1,"x":0.539,"y":-4.6},{"c":1,"x":0.519,"y":-4.26},{"c":1,"x":0.499,"y":-3.95},{"c":1,"x":0.479,"y":-3.64},{"c":1,"x":0.459,"y":-3.35},{"c":1,"x":0.439,"y":-3.09},{"c":1,"x":0.419,"y":-2.86},{"c":1,"x":0.399,"y":-2.64},{"c":1,"x":0.379,"y":-2.43},{"c":1,"x":0.339,"y":-2.08},{"c":1,"x":0.299,"y":-1.76},{"c":1,"x":0.259,"y":-1.51},{"c":1,"x":0.219,"y":-1.3},{"c":1,"x":0.179,"y":-1.14},{"c":1,"x":0.139,"y":-0.99},{"c":1,"x":0.099,"y":-0.83},{"c":1,"x":0.059,"y":-0.68},{"c":1,"x":0.03,"y":-0.56},{"c":1,"x":0,"y":-0.45},
{"c":5,"x":0,"y":-0.3},{"c":5,"x":0.03,"y":-0.12},{"c":5,"x":0.059,"y":-0.05},{"c":5,"x":0.1,"y":-0.01},{"c":5,"x":0.139,"y":0.03},{"c":5,"x":0.179,"y":0.06},{"c":5,"x":0.219,"y":0.1},{"c":5,"x":0.259,"y":0.15},{"c":5,"x":0.299,"y":0.21},{"c":5,"x":0.339,"y":0.27},{"c":5,"x":0.379,"y":0.34},{"c":5,"x":0.419,"y":0.39},{"c":5,"x":0.459,"y":0.44},{"c":5,"x":0.499,"y":0.51},{"c":5,"x":0.539,"y":0.6},{"c":5,"x":0.57,"y":0.72},{"c":5,"x":0.595,"y":0.88},{"c":5,"x":0.615,"y":1.08},{"c":5,"x":0.635,"y":1.35},{"c":5,"x":0.648,"y":1.62},{"c":5,"x":0.659,"y":1.97},{"c":5,"x":0.667,"y":2.35},{"c":5,"x":0.675,"y":2.9},{"c":5,"x":0.687,"y":3.8},{"c":5,"x":0.699,"y":4.8},{"c":5,"x":0.711,"y":5.85},{"c":5,"x":0.723,"y":6.8},{"c":5,"x":0.735,"y":7.7},{"c":5,"x":0.747,"y":8.5},{"c":5,"x":0.757,"y":8.95},{"c":5,"x":0.767,"y":9.2},{"c":5,"x":0.779,"y":9.35},{"c":5,"x":0.79,"y":9.25},{"c":5,"x":0.803,"y":9.0},{"c":5,"x":0.819,"y":8.6},{"c":5,"x":0.839,"y":8.05},{"c":5,"x":0.859,"y":7.58},{"c":5,"x":0.879,"y":7.1},{"c":5,"x":0.899,"y":6.62},{"c":5,"x":0.919,"y":6.22},{"c":5,"x":0.939,"y":5.84},{"c":5,"x":0.959,"y":5.47},{"c":5,"x":0.979,"y":5.12},{"c":5,"x":0.999,"y":4.8},{"c":5,"x":1.019,"y":4.5},{"c":5,"x":1.039,"y":4.22},{"c":5,"x":1.059,"y":3.98},{"c":5,"x":1.08,"y":3.75},{"c":5,"x":1.1,"y":3.55},
{"c":5,"x":1.1,"y":3.35},{"c":5,"x":1.08,"y":3.05},{"c":5,"x":1.06,"y":2.88},{"c":5,"x":1.039,"y":2.7},{"c":5,"x":1.019,"y":2.51},{"c":5,"x":0.979,"y":2.3},{"c":5,"x":0.939,"y":2.1},{"c":5,"x":0.899,"y":1.9},{"c":5,"x":0.859,"y":1.72},{"c":5,"x":0.819,"y":1.52},{"c":5,"x":0.795,"y":1.2},{"c":5,"x":0.779,"y":0.57},{"c":5,"x":0.763,"y":-0.2},{"c":5,"x":0.747,"y":-1.3},{"c":5,"x":0.731,"y":-2.39},{"c":5,"x":0.715,"y":-3.48},{"c":5,"x":0.699,"y":-4.41},{"c":5,"x":0.683,"y":-5.19},{"c":5,"x":0.667,"y":-5.65},{"c":5,"x":0.651,"y":-5.89},{"c":5,"x":0.635,"y":-5.97},{"c":5,"x":0.627,"y":-5.95},{"c":5,"x":0.619,"y":-5.89},{"c":5,"x":0.607,"y":-5.72},{"c":5,"x":0.595,"y":-5.5},{"c":5,"x":0.583,"y":-5.2},{"c":5,"x":0.571,"y":-4.88},{"c":5,"x":0.555,"y":-4.52},{"c":5,"x":0.539,"y":-4.2},{"c":5,"x":0.519,"y":-3.91},{"c":5,"x":0.499,"y":-3.64},{"c":5,"x":0.479,"y":-3.39},{"c":5,"x":0.459,"y":-3.16},{"c":5,"x":0.439,"y":-2.96},{"c":5,"x":0.419,"y":-2.77},{"c":5,"x":0.399,"y":-2.58},{"c":5,"x":0.379,"y":-2.39},{"c":5,"x":0.339,"y":-2.03},{"c":5,"x":0.299,"y":-1.69},{"c":5,"x":0.259,"y":-1.44},{"c":5,"x":0.219,"y":-1.22},{"c":5,"x":0.179,"y":-1.06},{"c":5,"x":0.139,"y":-0.91},{"c":5,"x":0.099,"y":-0.77},{"c":5,"x":0.059,"y":-0.65},{"c":5,"x":0.03,"y":-0.55},{"c":5,"x":0,"y":-0.45},
{"c":20,"x":0,"y":-0.28},{"c":20,"x":0.02,"y":-0.2},{"c":20,"x":0.059,"y":-0.09},{"c":20,"x":0.1,"y":-0.02},{"c":20,"x":0.139,"y":0.03},{"c":20,"x":0.179,"y":0.09},{"c":20,"x":0.219,"y":0.15},{"c":20,"x":0.259,"y":0.2},{"c":20,"x":0.299,"y":0.26},{"c":20,"x":0.339,"y":0.31},{"c":20,"x":0.379,"y":0.37},{"c":20,"x":0.419,"y":0.43},{"c":20,"x":0.459,"y":0.5},{"c":20,"x":0.499,"y":0.57},{"c":20,"x":0.539,"y":0.65},{"c":20,"x":0.57,"y":0.76},{"c":20,"x":0.595,"y":0.88},{"c":20,"x":0.615,"y":1.02},{"c":20,"x":0.635,"y":1.2},{"c":20,"x":0.651,"y":1.4},{"c":20,"x":0.667,"y":1.66},{"c":20,"x":0.683,"y":2.05},{"c":20,"x":0.699,"y":2.6},{"c":20,"x":0.711,"y":3.1},{"c":20,"x":0.723,"y":3.68},{"c":20,"x":0.735,"y":4.35},{"c":20,"x":0.747,"y":5.07},{"c":20,"x":0.759,"y":5.8},{"c":20,"x":0.771,"y":6.47},{"c":20,"x":0.779,"y":6.85},{"c":20,"x":0.787,"y":7.1},{"c":20,"x":0.799,"y":7.35},{"c":20,"x":0.811,"y":7.48},{"c":20,"x":0.823,"y":7.47},{"c":20,"x":0.835,"y":7.37},{"c":20,"x":0.847,"y":7.25},{"c":20,"x":0.859,"y":7.1},{"c":20,"x":0.879,"y":6.87},{"c":20,"x":0.899,"y":6.62},{"c":20,"x":0.919,"y":6.36},{"c":20,"x":0.939,"y":6.08},{"c":20,"x":0.959,"y":5.78},{"c":20,"x":0.979,"y":5.46},{"c":20,"x":0.999,"y":5.1},{"c":20,"x":1.019,"y":4.76},{"c":20,"x":1.039,"y":4.4},{"c":20,"x":1.059,"y":4.06},{"c":20,"x":1.08,"y":3.78},{"c":20,"x":1.1,"y":3.52},
{"c":20,"x":1.1,"y":3.3},{"c":20,"x":1.08,"y":3.0},{"c":20,"x":1.059,"y":2.75},{"c":20,"x":1.039,"y":2.5},{"c":20,"x":1.019,"y":2.27},{"c":20,"x":0.979,"y":2.05},{"c":20,"x":0.939,"y":1.81},{"c":20,"x":0.899,"y":1.65},{"c":20,"x":0.859,"y":1.5},{"c":20,"x":0.819,"y":1.27},{"c":20,"x":0.795,"y":0.96},{"c":20,"x":0.779,"y":0.57},{"c":20,"x":0.763,"y":0.1},{"c":20,"x":0.747,"y":-0.83},{"c":20,"x":0.731,"y":-1.77},{"c":20,"x":0.715,"y":-2.54},{"c":20,"x":0.699,"y":-3.24},{"c":20,"x":0.683,"y":-3.71},{"c":20,"x":0.667,"y":-3.87},{"c":20,"x":0.655,"y":-3.92},{"c":20,"x":0.643,"y":-3.92},{"c":20,"x":0.631,"y":-3.87},{"c":20,"x":0.619,"y":-3.78},{"c":20,"x":0.595,"y":-3.55},{"c":20,"x":0.579,"y":-3.35},{"c":20,"x":0.563,"y":-3.16},{"c":20,"x":0.543,"y":-2.97},{"c":20,"x":0.523,"y":-2.77},{"c":20,"x":0.503,"y":-2.6},{"c":20,"x":0.483,"y":-2.46},{"c":20,"x":0.463,"y":-2.34},{"c":20,"x":0.443,"y":-2.23},{"c":20,"x":0.419,"y":-2.08},{"c":20,"x":0.399,"y":-1.92},{"c":20,"x":0.379,"y":-1.76},{"c":20,"x":0.339,"y":-1.53},{"c":20,"x":0.299,"y":-1.3},{"c":20,"x":0.259,"y":-1.14},{"c":20,"x":0.219,"y":-0.99},{"c":20,"x":0.179,"y":-0.84},{"c":20,"x":0.139,"y":-0.68},{"c":20,"x":0.099,"y":-0.55},{"c":20,"x":0.059,"y":-0.42},{"c":20,"x":0.03,"y":-0.3},{"c":20,"x":0,"y":-0.2},
{"c":100,"x":0,"y":0.33},{"c":100,"x":0.05,"y":0.42},{"c":100,"x":0.1,"y":0.48},{"c":100,"x":0.139,"y":0.52},{"c":100,"x":0.219,"y":0.57},{"c":100,"x":0.299,"y":0.54},{"c":100,"x":0.379,"y":0.46},{"c":100,"x":0.459,"y":0.33},{"c":100,"x":0.539,"y":0.29},{"c":100,"x":0.579,"y":0.31},{"c":100,"x":0.619,"y":0.41},{"c":100,"x":0.659,"y":0.57},{"c":100,"x":0.699,"y":0.8},{"c":100,"x":0.739,"y":0.96},{"c":100,"x":0.779,"y":0.96},{"c":100,"x":0.819,"y":0.99},{"c":100,"x":0.859,"y":1.04},{"c":100,"x":0.899,"y":1.13},{"c":100,"x":0.939,"y":1.27},{"c":100,"x":0.979,"y":1.5},{"c":100,"x":1.019,"y":1.89},{"c":100,"x":1.059,"y":2.44},{"c":100,"x":1.08,"y":2.75},{"c":100,"x":1.1,"y":3.06},
{"c":100,"x":1.1,"y":2.9},{"c":100,"x":1.091,"y":2.2},{"c":100,"x":1.075,"y":1.75},{"c":100,"x":1.059,"y":1.42},{"c":100,"x":1.039,"y":1.08},{"c":100,"x":1.019,"y":0.8},{"c":100,"x":0.979,"y":0.5},{"c":100,"x":0.939,"y":0.26},{"c":100,"x":0.899,"y":0.17},{"c":100,"x":0.859,"y":0.11},{"c":100,"x":0.819,"y":0.06},{"c":100,"x":0.779,"y":0.03},{"c":100,"x":0.739,"y":-0.12},{"c":100,"x":0.699,"y":-0.31},{"c":100,"x":0.659,"y":-0.4},{"c":100,"x":0.619,"y":-0.36},{"c":100,"x":0.579,"y":-0.28},{"c":100,"x":0.539,"y":-0.2},{"c":100,"x":0.459,"y":-0.12},{"c":100,"x":0.379,"y":-0.05},{"c":100,"x":0.299,"y":0.03},{"c":100,"x":0.219,"y":0.07},{"c":100,"x":0.139,"y":0.11},{"c":100,"x":0.059,"y":0.15},{"c":100,"x":0,"y":0.18}
 ],
 "tAb": [{"x":-0.07,"y":7.05,"t":"(A)"},{"x":-0.07,"y":5.99,"t":"PTMA electrode"}],
 "tAn": [{"x":0.012,"y":7.05,"t":"NaTFSI:NMA (1:4)"},{"x":-0.07,"y":4.88,"t":"10 mV s⁻¹"},{"x":-0.0168,"y":3.83,"t":"/"},{"x":0.0631,"y":3.83,"t":"/"},{"x":0.1816,"y":3.83,"t":"/"},{"x":0.3216,"y":3.83,"t":"cycle"}],
 "tAc": [{"x":-0.07,"y":3.83,"t":"1.","c":1},{"x":0.0137,"y":3.83,"t":"5.","c":5},{"x":0.0967,"y":3.83,"t":"20.","c":20},{"x":0.2111,"y":3.83,"t":"100.","c":100}],
 "tBb": [{"x":-0.07,"y":9.68,"t":"(B)"}],
 "tBn": [{"x":0.012,"y":9.68,"t":"NaTFSI:NMA (1:6)"}],
 "tCb": [{"x":-0.07,"y":9.83,"t":"(C)"}],
 "tCn": [{"x":0.012,"y":9.83,"t":"NaTFSI:NMA (1:12)"}]
},
"vconcat": [
{
 "width": 542, "height": 408,
 "layer": [
  {"data": {"name": "A"}, "mark": {"type": "line", "strokeWidth": 4, "strokeJoin": "round", "strokeCap": "round"},
   "encoding": {
    "x": {"field": "x", "type": "quantitative", "scale": {"domain": [-0.1, 1.2], "nice": false, "zero": false}, "axis": {"orient": "bottom", "labels": false, "ticks": false, "title": null}},
    "y": {"field": "y", "type": "quantitative", "scale": {"domain": [-8, 8], "nice": false, "zero": false}, "axis": {"orient": "left", "values": [-5, 0, 5], "ticks": false, "tickSize": 0, "labelPadding": 8, "labelExpr": "'' + datum.value", "labelOverlap": false, "labelFlush": false, "title": "i m⁻¹ / A g⁻¹", "titleX": -42, "titleY": 204, "titleAngle": -90, "titleAlign": "center", "titleBaseline": "alphabetic"}},
    "color": {"field": "c", "type": "nominal", "scale": {"domain": [1, 5, 20, 100], "range": ["#2b40f8", "#22c822", "#ff8c1a", "#ff1414"]}, "legend": null},
    "order": {"value": null}}},
  {"data": {"name": "tAb"}, "mark": {"type": "point", "opacity": 0},
   "encoding": {
    "x": {"field": "x", "type": "quantitative", "scale": {"domain": [-0.1, 1.2], "nice": false, "zero": false}, "axis": {"orient": "bottom", "values": [0, 0.2, 0.4, 0.6, 0.8, 1, 1.2], "labels": false, "tickSize": -7, "title": null}},
    "y": {"field": "y", "type": "quantitative", "scale": {"domain": [-8, 8], "nice": false, "zero": false}, "axis": {"orient": "left", "values": [-5, 0, 5], "labels": false, "tickSize": -7, "title": null}}}},
  {"data": {"name": "tAb"}, "mark": {"type": "point", "opacity": 0},
   "encoding": {
    "x": {"field": "x", "type": "quantitative", "scale": {"domain": [-0.1, 1.2], "nice": false, "zero": false}, "axis": {"orient": "bottom", "values": [0.1, 0.3, 0.5, 0.7, 0.9, 1.1], "labels": false, "tickSize": -4, "title": null}},
    "y": {"field": "y", "type": "quantitative", "scale": {"domain": [-8, 8], "nice": false, "zero": false}, "axis": {"orient": "left", "values": [-7.5, -2.5, 2.5, 7.5], "labels": false, "tickSize": -4, "title": null}}}},
  {"data": {"name": "tAb"}, "mark": {"type": "point", "opacity": 0},
   "encoding": {
    "x": {"field": "x", "type": "quantitative", "scale": {"domain": [-0.1, 1.2], "nice": false, "zero": false}, "axis": {"orient": "top", "values": [0, 0.2, 0.4, 0.6, 0.8, 1, 1.2], "labels": false, "tickSize": -7, "title": null}},
    "y": {"field": "y", "type": "quantitative", "scale": {"domain": [-8, 8], "nice": false, "zero": false}, "axis": {"orient": "right", "values": [-5, 0, 5], "labels": false, "tickSize": -7, "title": null}}}},
  {"data": {"name": "tAb"}, "mark": {"type": "point", "opacity": 0},
   "encoding": {
    "x": {"field": "x", "type": "quantitative", "scale": {"domain": [-0.1, 1.2], "nice": false, "zero": false}, "axis": {"orient": "top", "values": [0.1, 0.3, 0.5, 0.7, 0.9, 1.1], "labels": false, "tickSize": -4, "title": null}},
    "y": {"field": "y", "type": "quantitative", "scale": {"domain": [-8, 8], "nice": false, "zero": false}, "axis": {"orient": "right", "values": [-7.5, -2.5, 2.5, 7.5], "labels": false, "tickSize": -4, "title": null}}}},
  {"data": {"name": "tAb"}, "mark": {"type": "text", "align": "left", "baseline": "middle", "fontWeight": "bold", "fontSize": 20, "color": "black"},
   "encoding": {"x": {"field": "x", "type": "quantitative", "axis": null}, "y": {"field": "y", "type": "quantitative", "axis": null}, "text": {"field": "t"}}},
  {"data": {"name": "tAn"}, "mark": {"type": "text", "align": "left", "baseline": "middle", "fontSize": 20, "color": "black"},
   "encoding": {"x": {"field": "x", "type": "quantitative", "axis": null}, "y": {"field": "y", "type": "quantitative", "axis": null}, "text": {"field": "t"}}},
  {"data": {"name": "tAc"}, "mark": {"type": "text", "align": "left", "baseline": "middle", "fontSize": 20},
   "encoding": {"x": {"field": "x", "type": "quantitative", "axis": null}, "y": {"field": "y", "type": "quantitative", "axis": null}, "text": {"field": "t"}, "color": {"field": "c", "type": "nominal", "legend": null}}}
 ],
 "resolve": {"axis": {"x": "independent", "y": "independent"}}
},
{
 "width": 542, "height": 408,
 "layer": [
  {"data": {"name": "B"}, "mark": {"type": "line", "strokeWidth": 4, "strokeJoin": "round", "strokeCap": "round"},
   "encoding": {
    "x": {"field": "x", "type": "quantitative", "scale": {"domain": [-0.1, 1.2], "nice": false, "zero": false}, "axis": {"orient": "bottom", "labels": false, "ticks": false, "title": null}},
    "y": {"field": "y", "type": "quantitative", "scale": {"domain": [-11, 11], "nice": false, "zero": false}, "axis": {"orient": "left", "values": [-10, -5, 0, 5, 10], "ticks": false, "tickSize": 0, "labelPadding": 8, "labelExpr": "'' + datum.value", "labelOverlap": false, "labelFlush": false, "title": "i m⁻¹ / A g⁻¹", "titleX": -42, "titleY": 204, "titleAngle": -90, "titleAlign": "center", "titleBaseline": "alphabetic"}},
    "color": {"field": "c", "type": "nominal", "scale": {"domain": [1, 5, 20, 100], "range": ["#2b40f8", "#22c822", "#ff8c1a", "#ff1414"]}, "legend": null},
    "order": {"value": null}}},
  {"data": {"name": "tBb"}, "mark": {"type": "point", "opacity": 0},
   "encoding": {
    "x": {"field": "x", "type": "quantitative", "scale": {"domain": [-0.1, 1.2], "nice": false, "zero": false}, "axis": {"orient": "bottom", "values": [0, 0.2, 0.4, 0.6, 0.8, 1, 1.2], "labels": false, "tickSize": -7, "title": null}},
    "y": {"field": "y", "type": "quantitative", "scale": {"domain": [-11, 11], "nice": false, "zero": false}, "axis": {"orient": "left", "values": [-10, -5, 0, 5, 10], "labels": false, "tickSize": -7, "title": null}}}},
  {"data": {"name": "tBb"}, "mark": {"type": "point", "opacity": 0},
   "encoding": {
    "x": {"field": "x", "type": "quantitative", "scale": {"domain": [-0.1, 1.2], "nice": false, "zero": false}, "axis": {"orient": "bottom", "values": [0.1, 0.3, 0.5, 0.7, 0.9, 1.1], "labels": false, "tickSize": -4, "title": null}},
    "y": {"field": "y", "type": "quantitative", "scale": {"domain": [-11, 11], "nice": false, "zero": false}, "axis": {"orient": "left", "values": [-7.5, -2.5, 2.5, 7.5], "labels": false, "tickSize": -4, "title": null}}}},
  {"data": {"name": "tBb"}, "mark": {"type": "point", "opacity": 0},
   "encoding": {
    "x": {"field": "x", "type": "quantitative", "scale": {"domain": [-0.1, 1.2], "nice": false, "zero": false}, "axis": {"orient": "top", "values": [0, 0.2, 0.4, 0.6, 0.8, 1, 1.2], "labels": false, "tickSize": -7, "title": null}},
    "y": {"field": "y", "type": "quantitative", "scale": {"domain": [-11, 11], "nice": false, "zero": false}, "axis": {"orient": "right", "values": [-10, -5, 0, 5, 10], "labels": false, "tickSize": -7, "title": null}}}},
  {"data": {"name": "tBb"}, "mark": {"type": "point", "opacity": 0},
   "encoding": {
    "x": {"field": "x", "type": "quantitative", "scale": {"domain": [-0.1, 1.2], "nice": false, "zero": false}, "axis": {"orient": "top", "values": [0.1, 0.3, 0.5, 0.7, 0.9, 1.1], "labels": false, "tickSize": -4, "title": null}},
    "y": {"field": "y", "type": "quantitative", "scale": {"domain": [-11, 11], "nice": false, "zero": false}, "axis": {"orient": "right", "values": [-7.5, -2.5, 2.5, 7.5], "labels": false, "tickSize": -4, "title": null}}}},
  {"data": {"name": "tBb"}, "mark": {"type": "text", "align": "left", "baseline": "middle", "fontWeight": "bold", "fontSize": 20, "color": "black"},
   "encoding": {"x": {"field": "x", "type": "quantitative", "axis": null}, "y": {"field": "y", "type": "quantitative", "axis": null}, "text": {"field": "t"}}},
  {"data": {"name": "tBn"}, "mark": {"type": "text", "align": "left", "baseline": "middle", "fontSize": 20, "color": "black"},
   "encoding": {"x": {"field": "x", "type": "quantitative", "axis": null}, "y": {"field": "y", "type": "quantitative", "axis": null}, "text": {"field": "t"}}}
 ],
 "resolve": {"axis": {"x": "independent", "y": "independent"}}
},
{
 "width": 542, "height": 408,
 "layer": [
  {"data": {"name": "C"}, "mark": {"type": "line", "strokeWidth": 4, "strokeJoin": "round", "strokeCap": "round"},
   "encoding": {
    "x": {"field": "x", "type": "quantitative", "scale": {"domain": [-0.1, 1.2], "nice": false, "zero": false}, "axis": {"orient": "bottom", "values": [0, 0.2, 0.4, 0.6, 0.8, 1, 1.2], "format": ".1f", "ticks": false, "tickSize": 0, "labelPadding": 8, "labelOverlap": false, "labelFlush": false, "title": "E vs. Ag / V", "titleY": 45, "titleBaseline": "alphabetic"}},
    "y": {"field": "y", "type": "quantitative", "scale": {"domain": [-8, 11], "nice": false, "zero": false}, "axis": {"orient": "left", "values": [-5, 0, 5, 10], "ticks": false, "tickSize": 0, "labelPadding": 8, "labelExpr": "'' + datum.value", "labelOverlap": false, "labelFlush": false, "title": "i m⁻¹ / A g⁻¹", "titleX": -42, "titleY": 204, "titleAngle": -90, "titleAlign": "center", "titleBaseline": "alphabetic"}},
    "color": {"field": "c", "type": "nominal", "scale": {"domain": [1, 5, 20, 100], "range": ["#2b40f8", "#22c822", "#ff8c1a", "#ff1414"]}, "legend": null},
    "order": {"value": null}}},
  {"data": {"name": "tCb"}, "mark": {"type": "point", "opacity": 0},
   "encoding": {
    "x": {"field": "x", "type": "quantitative", "scale": {"domain": [-0.1, 1.2], "nice": false, "zero": false}, "axis": {"orient": "bottom", "values": [0, 0.2, 0.4, 0.6, 0.8, 1, 1.2], "labels": false, "tickSize": -7, "title": null}},
    "y": {"field": "y", "type": "quantitative", "scale": {"domain": [-8, 11], "nice": false, "zero": false}, "axis": {"orient": "left", "values": [-5, 0, 5, 10], "labels": false, "tickSize": -7, "title": null}}}},
  {"data": {"name": "tCb"}, "mark": {"type": "point", "opacity": 0},
   "encoding": {
    "x": {"field": "x", "type": "quantitative", "scale": {"domain": [-0.1, 1.2], "nice": false, "zero": false}, "axis": {"orient": "bottom", "values": [0.1, 0.3, 0.5, 0.7, 0.9, 1.1], "labels": false, "tickSize": -4, "title": null}},
    "y": {"field": "y", "type": "quantitative", "scale": {"domain": [-8, 11], "nice": false, "zero": false}, "axis": {"orient": "left", "values": [-7.5, -2.5, 2.5, 7.5], "labels": false, "tickSize": -4, "title": null}}}},
  {"data": {"name": "tCb"}, "mark": {"type": "point", "opacity": 0},
   "encoding": {
    "x": {"field": "x", "type": "quantitative", "scale": {"domain": [-0.1, 1.2], "nice": false, "zero": false}, "axis": {"orient": "top", "values": [0, 0.2, 0.4, 0.6, 0.8, 1, 1.2], "labels": false, "tickSize": -7, "title": null}},
    "y": {"field": "y", "type": "quantitative", "scale": {"domain": [-8, 11], "nice": false, "zero": false}, "axis": {"orient": "right", "values": [-5, 0, 5, 10], "labels": false, "tickSize": -7, "title": null}}}},
  {"data": {"name": "tCb"}, "mark": {"type": "point", "opacity": 0},
   "encoding": {
    "x": {"field": "x", "type": "quantitative", "scale": {"domain": [-0.1, 1.2], "nice": false, "zero": false}, "axis": {"orient": "top", "values": [0.1, 0.3, 0.5, 0.7, 0.9, 1.1], "labels": false, "tickSize": -4, "title": null}},
    "y": {"field": "y", "type": "quantitative", "scale": {"domain": [-8, 11], "nice": false, "zero": false}, "axis": {"orient": "right", "values": [-7.5, -2.5, 2.5, 7.5], "labels": false, "tickSize": -4, "title": null}}}},
  {"data": {"name": "tCb"}, "mark": {"type": "text", "align": "left", "baseline": "middle", "fontWeight": "bold", "fontSize": 20, "color": "black"},
   "encoding": {"x": {"field": "x", "type": "quantitative", "axis": null}, "y": {"field": "y", "type": "quantitative", "axis": null}, "text": {"field": "t"}}},
  {"data": {"name": "tCn"}, "mark": {"type": "text", "align": "left", "baseline": "middle", "fontSize": 20, "color": "black"},
   "encoding": {"x": {"field": "x", "type": "quantitative", "axis": null}, "y": {"field": "y", "type": "quantitative", "axis": null}, "text": {"field": "t"}}}
 ],
 "resolve": {"axis": {"x": "independent", "y": "independent"}}
}
]
}
